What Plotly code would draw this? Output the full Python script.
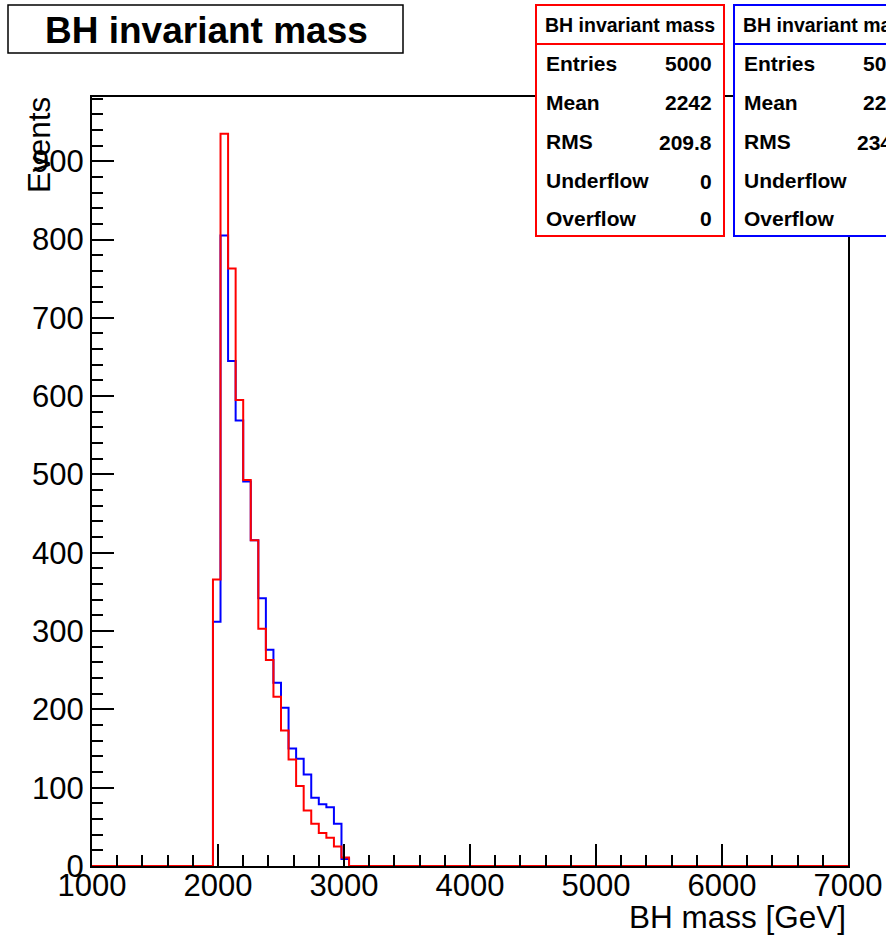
import plotly.graph_objects as go

# ---- data -----------------------------------------------------------------
x_min, x_max = 1000, 7000
bin_width = 60
first_bin_low = 1960
red_counts = [366, 935, 763, 595, 493, 416, 303, 263, 216, 173, 136, 102, 71, 54, 42, 36, 25, 11]
blue_counts = [312, 805, 645, 569, 491, 416, 342, 276, 234, 202, 150, 137, 117, 87, 79, 75, 54, 9]
x_ticks = [1000, 2000, 3000, 4000, 5000, 6000, 7000]
y_ticks = [0, 100, 200, 300, 400, 500, 600, 700, 800, 900]
stat_labels = ["Entries", "Mean", "RMS", "Underflow", "Overflow"]
red_stats = ["5000", "2242", "209.8", "0", "0"]
blue_stats = ["5000", "2282", "234.5", "0", "0"]
hist_title = "BH invariant mass"
x_title = "BH mass [GeV]"
y_title = "Events"

W, H = 886, 936
L, R, T, B = 92, 848, 97, 866
FONT = "Liberation Sans, Arial, sans-serif"


def full_hist(counts):
    n = (x_max - x_min) // bin_width
    start = (first_bin_low - x_min) // bin_width
    vals = [0] * n
    for i, c in enumerate(counts):
        vals[start + i] = c
    edges = [x_min + i * bin_width for i in range(n + 1)]
    return edges, vals + [vals[-1]]


def px(x):
    return (x - L) / (R - L)


def py(y):
    return (B - y) / (B - T)


fig = go.Figure()
for counts, color in [(blue_counts, "#0000ff"), (red_counts, "#ff0000")]:
    ex, ey = full_hist(counts)
    fig.add_trace(go.Scatter(x=ex, y=ey, mode="lines", line=dict(color=color, width=2, shape="hv"),
                             showlegend=False, hoverinfo="skip"))

axis_common = dict(showgrid=False, zeroline=False, showline=True, linecolor="black", linewidth=2,
                   mirror=True, ticks="inside", tickcolor="black", tickwidth=2, ticklen=22,
                   automargin=False,
                   tickfont=dict(family=FONT, size=31, color="black"))

fig.update_xaxes(range=[x_min, x_max], tickvals=x_ticks, ticktext=[str(v) for v in x_ticks],
                 ticklabelstandoff=-9,
                 minor=dict(ticks="inside", ticklen=11, dtick=200, tickcolor="black", tickwidth=2, showgrid=False),
                 **axis_common)
fig.update_yaxes(range=[0, 982], tickvals=y_ticks, ticktext=[str(v) for v in y_ticks],
                 minor=dict(ticks="inside", ticklen=11, dtick=20, tickcolor="black", tickwidth=2, showgrid=False),
                 **axis_common)

shapes = []
annotations = []

# title box
shapes.append(dict(type="rect", xref="paper", yref="paper", x0=px(8), x1=px(403), y0=py(5), y1=py(53),
                   line=dict(color="black", width=1.5), fillcolor="white", layer="above"))
annotations.append(dict(xref="paper", yref="paper", x=px(206), y=py(30), text="<b>%s</b>" % hist_title,
                        showarrow=False, xanchor="center", yanchor="middle",
                        font=dict(family=FONT, size=37, color="black")))

# stats boxes
row_y = [63, 102, 141, 180, 218]
for x0, color, vals in [(536, "#ff0000", red_stats), (734, "#0000ff", blue_stats)]:
    x1 = x0 + 188
    shapes.append(dict(type="rect", xref="paper", yref="paper", x0=px(x0), x1=px(x1), y0=py(5), y1=py(236),
                       line=dict(color=color, width=2), fillcolor="white", layer="above"))
    shapes.append(dict(type="line", xref="paper", yref="paper", x0=px(x0), x1=px(x1), y0=py(44), y1=py(44),
                       line=dict(color=color, width=2), layer="above"))
    annotations.append(dict(xref="paper", yref="paper", x=px((x0 + x1) / 2), y=py(25),
                            text="<b>%s</b>" % hist_title, showarrow=False, xanchor="center", yanchor="middle",
                            font=dict(family=FONT, size=19.5, color="black")))
    for lab, val, yy in zip(stat_labels, vals, row_y):
        annotations.append(dict(xref="paper", yref="paper", x=px(x0 + 8), y=py(yy), text="<b>%s</b>" % lab,
                                showarrow=False, xanchor="left", yanchor="middle",
                                font=dict(family=FONT, size=21, color="black")))
        annotations.append(dict(xref="paper", yref="paper", x=px(x1 - 10), y=py(yy + 1), text="<b>%s</b>" % val,
                                showarrow=False, xanchor="right", yanchor="middle",
                                font=dict(family=FONT, size=21, color="black")))

# axis titles
annotations.append(dict(xref="paper", yref="paper", x=1.0, y=py(917), text=x_title, showarrow=False,
                        xanchor="right", yanchor="middle", font=dict(family=FONT, size=31.5, color="black")))
annotations.append(dict(xref="paper", yref="paper", x=px(39), y=py(95), text=y_title, showarrow=False,
                        textangle=-90, xanchor="center", yanchor="top",
                        font=dict(family=FONT, size=31.5, color="black")))

fig.update_layout(width=W, height=H, margin=dict(l=L, r=W - R, t=T, b=H - B, pad=0, autoexpand=False),
                  paper_bgcolor="white", plot_bgcolor="white", shapes=shapes, annotations=annotations,
                  font=dict(family=FONT, color="black"))

fig.write_html("out.html", config={"displayModeBar": False, "responsive": False},
               post_script="document.body.style.margin='0';document.body.style.overflow='hidden';")
